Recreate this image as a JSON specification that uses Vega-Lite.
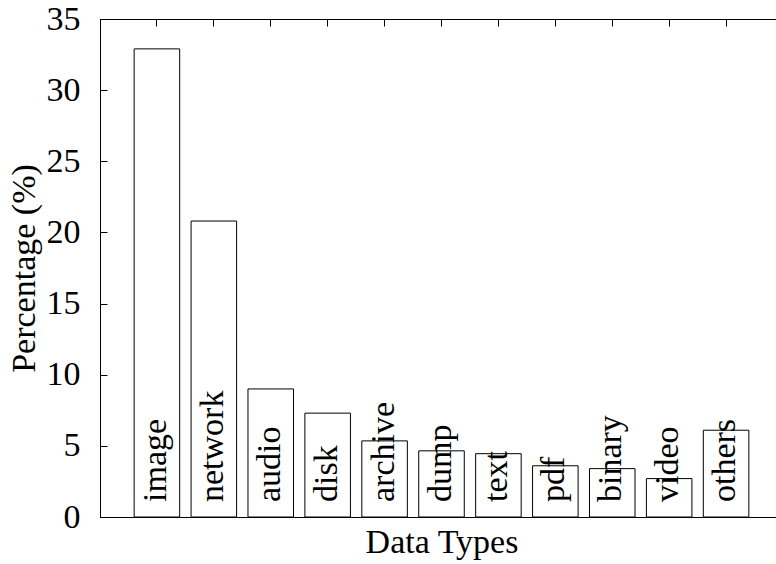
{
  "$schema": "https://vega.github.io/schema/vega-lite/v6.json",
  "width": 683,
  "height": 498,
  "autosize": {"type": "none"},
  "padding": {"left": 100, "top": 19, "right": 0, "bottom": 47},
  "background": "white",
  "config": {
    "font": "Liberation Serif",
    "view": {"stroke": "black", "strokeWidth": 1},
    "axis": {
      "grid": false,
      "domainColor": "black",
      "tickColor": "black",
      "labelColor": "black",
      "titleColor": "black",
      "labelFont": "Liberation Serif",
      "titleFont": "Liberation Serif",
      "labelFontSize": 34,
      "titleFontSize": 34,
      "titleFontWeight": "normal"
    }
  },
  "data": {
    "values": [
      {"type": "image", "pct": 32.9},
      {"type": "network", "pct": 20.8},
      {"type": "audio", "pct": 9.0},
      {"type": "disk", "pct": 7.3},
      {"type": "archive", "pct": 5.35},
      {"type": "dump", "pct": 4.65},
      {"type": "text", "pct": 4.45},
      {"type": "pdf", "pct": 3.6},
      {"type": "binary", "pct": 3.4},
      {"type": "video", "pct": 2.7},
      {"type": "others", "pct": 6.1}
    ]
  },
  "layer": [
    {
      "mark": {"type": "bar", "fill": "white", "stroke": "black", "strokeWidth": 1},
      "encoding": {
        "x": {
          "field": "type",
          "type": "nominal",
          "sort": null,
          "scale": {"paddingInner": 0.2, "paddingOuter": 0.6},
          "axis": {"orient": "bottom", "labels": false, "tickSize": -7, "title": "Data Types", "titlePadding": 8}
        },
        "y": {
          "field": "pct",
          "type": "quantitative",
          "scale": {"domain": [0, 35], "nice": false},
          "axis": {"values": [0, 5, 10, 15, 20, 25, 30, 35], "tickSize": -7, "labelPadding": 27, "title": "Percentage (%)", "titlePadding": 5}
        }
      }
    },
    {
      "mark": {"type": "text", "angle": 270, "align": "left", "baseline": "alphabetic", "dx": 15, "dy": 9, "fontSize": 34, "font": "Liberation Serif", "color": "black"},
      "encoding": {
        "x": {
          "field": "type",
          "type": "nominal",
          "sort": null,
          "axis": {"orient": "top", "labels": false, "tickSize": -7, "title": null}
        },
        "y": {"datum": 0},
        "text": {"field": "type"}
      }
    }
  ],
  "resolve": {"axis": {"x": "independent"}}
}
